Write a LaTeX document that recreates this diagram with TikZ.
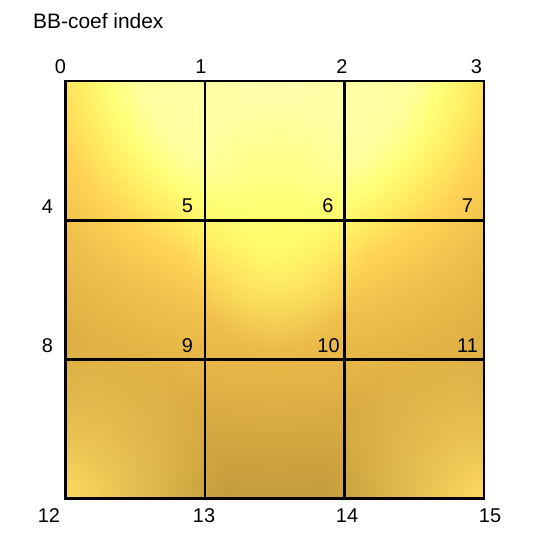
\documentclass[tikz,border=0pt]{standalone}
\usepackage{fontspec}
\setmainfont{Liberation Sans}
\usetikzlibrary{fadings}
\definecolor{g0}{HTML}{FFFFB0}
\definecolor{g1}{HTML}{FFFFA0}
\definecolor{g2}{HTML}{FFFF78}
\definecolor{g3}{HTML}{FFEC62}
\definecolor{g4}{HTML}{FFD455}
\definecolor{g5}{HTML}{F0C04C}
\definecolor{g6}{HTML}{E4B546}
\definecolor{g7}{HTML}{D2A640}
\definecolor{g8}{HTML}{C49C3C}
\definecolor{g9}{HTML}{BE9638}
\definecolor{glowc}{HTML}{FFDA60}
\definecolor{midglow}{HTML}{FFFF70}
\pgfdeclareradialshading{goldsurf}{\pgfpoint{0bp}{0bp}}{color(0bp)=(g0); color(6.73bp)=(g1); color(8.17bp)=(g2); color(9.62bp)=(g3); color(11.06bp)=(g4); color(13.46bp)=(g5); color(15.87bp)=(g6); color(19.23bp)=(g7); color(21.63bp)=(g8); color(25bp)=(g9); color(50bp)=(g9)}
\tikzfading[name=glowfade, inner color=transparent!0, outer color=transparent!100]
\tikzset{
  lbl/.style={inner sep=0pt, font=\fontsize{20}{24}\selectfont},
  gridline/.style={line width=2.4, black, line cap=rect},
}
\begin{document}
\begin{tikzpicture}[x=1bp,y=-1bp]
\useasboundingbox (0,0) rectangle (544,541);
% grid points
\foreach \i/\xx in {0/65.5,1/205,2/344.5,3/484}{
  \foreach \j/\yy in {0/81,1/220.5,2/359.5,3/498.5}{
    \coordinate (p\i\j) at (\xx,\yy);
  }
}
% surface
\begin{scope}
\clip (p00) rectangle (p33);
\shade[shading=goldsurf] (275-520,45-520) rectangle (275+520,45+520);
\fill[midglow, path fading=glowfade] (275,225) ellipse (95 and 125);
\fill[glowc, path fading=glowfade] (p03) circle (160);
\fill[glowc, path fading=glowfade] (p33) circle (160);
\end{scope}
% grid lines
\foreach \k in {0,1,2,3}{
  \draw[gridline] (p\k0) -- (p\k3);
  \draw[gridline] (p0\k) -- (p3\k);
}
% title
\node[lbl, anchor=base west, font=\fontsize{21}{25}\selectfont] (title) at (33,28.5) {BB-coef index};
% labels
\node[lbl] (l0) at (60.5,66.5) {0};
\node[lbl] (l1) at (201,66.5) {1};
\node[lbl] (l2) at (342,66.5) {2};
\node[lbl] (l3) at (476.5,66.5) {3};
\node[lbl] (l4) at (47.5,206.5) {4};
\node[lbl] (l5) at (187.5,205.5) {5};
\node[lbl] (l6) at (328,205.5) {6};
\node[lbl] (l7) at (467.5,205.5) {7};
\node[lbl] (l8) at (47.5,346) {8};
\node[lbl] (l9) at (187.5,346) {9};
\node[lbl] (l10) at (328.5,346) {10};
\node[lbl] (l11) at (467.5,346) {11};
\node[lbl] (l12) at (49,516) {12};
\node[lbl] (l13) at (204,516) {13};
\node[lbl] (l14) at (347,516) {14};
\node[lbl] (l15) at (490,516) {15};
\end{tikzpicture}
\end{document}
